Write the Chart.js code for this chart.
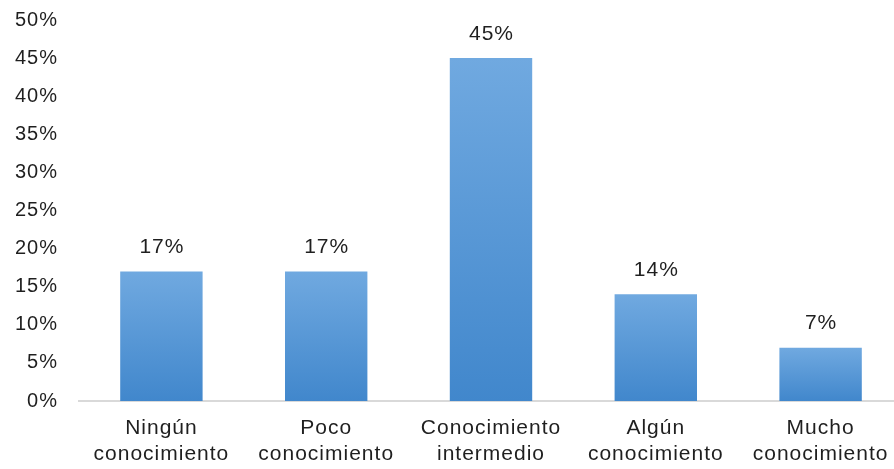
<!DOCTYPE html>
<html>
<head>
<meta charset="utf-8">
<script src="https://cdn.jsdelivr.net/npm/chart.js@4/dist/chart.umd.min.js"></script>
<style>
  html, body { margin: 0; padding: 0; background: #fff; overflow: hidden; }
  #wrap { position: absolute; left: 0; top: 0; width: 904px; height: 469px; }
</style>
</head>
<body>
<div id="wrap"><canvas id="nivelChart" width="904" height="469"></canvas></div>
<script>
  // Nivel de conocimiento: porcentaje de respuestas por categoría
  const CATEGORIES = [
    ['Ningún', 'conocimiento'],
    ['Poco', 'conocimiento'],
    ['Conocimiento', 'intermedio'],
    ['Algún', 'conocimiento'],
    ['Mucho', 'conocimiento']
  ];
  const PERCENTS = [17, 17, 45, 14, 7];
  const Y_TICKS = [0, 5, 10, 15, 20, 25, 30, 35, 40, 45, 50];

  const FONT = "'Liberation Sans', Arial, sans-serif";
  const TEXT = '#1f1f1f';

  // slightly spaced lettering for every label on the canvas
  const spacedText = {
    id: 'spacedText',
    beforeDraw(chart) { chart.ctx.letterSpacing = '1px'; }
  };

  // value labels above each bar, read from the bar elements themselves
  const valueLabels = {
    id: 'valueLabels',
    afterDatasetsDraw(chart) {
      const ctx = chart.ctx;
      const meta = chart.getDatasetMeta(0);
      ctx.save();
      ctx.font = '21px ' + FONT;
      ctx.fillStyle = TEXT;
      ctx.textAlign = 'center';
      ctx.textBaseline = 'middle';
      meta.data.forEach(function (bar, i) {
        ctx.fillText(PERCENTS[i] + '%', bar.x + 0.5, bar.y - 24);
      });
      ctx.restore();
    }
  };

  // each bar fades from a light blue top to a deeper blue at its base
  function barFill(context) {
    const chart = context.chart;
    const y = chart.scales.y;
    if (!chart.chartArea || !y || context.raw === undefined) return '#5b9bd5';
    const top = y.getPixelForValue(context.raw);
    const base = y.getPixelForValue(0);
    const g = chart.ctx.createLinearGradient(0, top, 0, base);
    g.addColorStop(0, '#70a9e0');
    g.addColorStop(1, '#4187cc');
    return g;
  }

  new Chart(document.getElementById('nivelChart'), {
    type: 'bar',
    data: {
      labels: CATEGORIES,
      datasets: [{
        data: PERCENTS,
        backgroundColor: barFill,
        borderWidth: 0,
        barPercentage: 0.5,
        categoryPercentage: 1
      }]
    },
    plugins: [spacedText, valueLabels],
    options: {
      responsive: false,
      animation: false,
      layout: { padding: { top: 20, right: 1, left: 0, bottom: 0 } },
      plugins: {
        legend: { display: false },
        tooltip: { enabled: false }
      },
      scales: {
        y: {
          min: 0,
          max: 50,
          afterBuildTicks: function (scale) {
            scale.ticks = Y_TICKS.map(function (v) { return { value: v }; });
          },
          afterFit: function (scale) {
            scale.width = 79;
            scale.paddingTop = 0;
            scale.paddingBottom = 0;
          },
          grid: { display: false },
          border: { display: false },
          ticks: {
            padding: 13,
            color: TEXT,
            font: { family: FONT, size: 20 },
            callback: function (v) { return v + '%'; }
          }
        },
        x: {
          afterFit: function (scale) { scale.height = 68; },
          grid: { display: false },
          border: { display: true, color: '#d9d9d9', width: 2 },
          ticks: {
            padding: 7,
            color: TEXT,
            maxRotation: 0,
            autoSkip: false,
            font: { family: FONT, size: 21, lineHeight: 1.2 }
          }
        }
      }
    }
  });
</script>
</body>
</html>
